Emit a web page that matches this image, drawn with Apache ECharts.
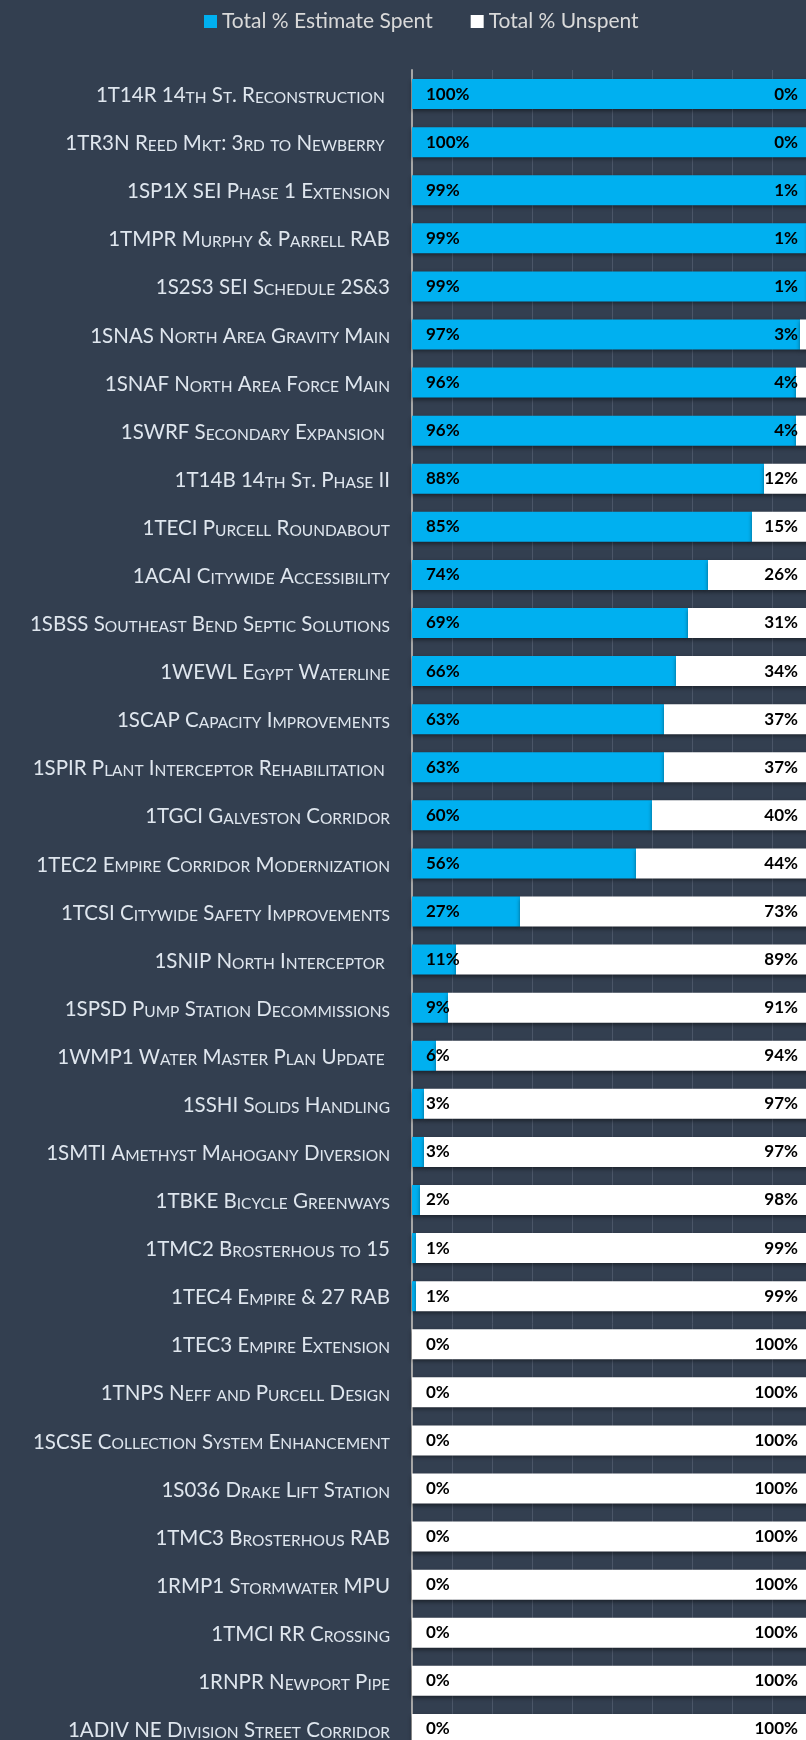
<!DOCTYPE html>
<html>
<head>
<meta charset="utf-8">
<script src="https://cdn.jsdelivr.net/npm/echarts@6/dist/echarts.min.js"></script>
<style>
  html, body { margin: 0; padding: 0; background: #333f50; }
  #chart { width: 806px; height: 1740px; }
</style>
</head>
<body>
<div id="chart"></div>
<script>
// project names (shown in small caps, trailing spaces kept as in the sheet)
const categories = [
    '1T14R 14th St. Reconstruction ',
    '1TR3N Reed Mkt: 3rd to Newberry ',
    '1SP1X SEI Phase 1 Extension',
    '1TMPR Murphy & Parrell RAB',
    '1S2S3 SEI Schedule 2S&3',
    '1SNAS North Area Gravity Main',
    '1SNAF North Area Force Main',
    '1SWRF Secondary Expansion ',
    '1T14B 14th St. Phase II',
    '1TECI Purcell Roundabout',
    '1ACAI Citywide Accessibility',
    '1SBSS Southeast Bend Septic Solutions',
    '1WEWL Egypt Waterline',
    '1SCAP Capacity Improvements',
    '1SPIR Plant Interceptor Rehabilitation ',
    '1TGCI Galveston Corridor',
    '1TEC2 Empire Corridor Modernization',
    '1TCSI Citywide Safety Improvements',
    '1SNIP North Interceptor ',
    '1SPSD Pump Station Decommissions',
    '1WMP1 Water Master Plan Update ',
    '1SSHI Solids Handling',
    '1SMTI Amethyst Mahogany Diversion',
    '1TBKE Bicycle Greenways',
    '1TMC2 Brosterhous to 15',
    '1TEC4 Empire & 27 RAB',
    '1TEC3 Empire Extension',
    '1TNPS Neff and Purcell Design',
    '1SCSE Collection System Enhancement',
    '1S036 Drake Lift Station',
    '1TMC3 Brosterhous RAB',
    '1RMP1 Stormwater MPU',
    '1TMCI RR Crossing',
    '1RNPR Newport Pipe',
    '1ADIV NE Division Street Corridor'
];
const spent = [100, 100, 99, 99, 99, 97, 96, 96, 88, 85, 74, 69, 66, 63, 63, 60, 56, 27, 11, 9, 6, 3, 3, 2, 1, 1, 0, 0, 0, 0, 0, 0, 0, 0, 0];
const unspent = [0, 0, 1, 1, 1, 3, 4, 4, 12, 15, 26, 31, 34, 37, 37, 40, 44, 73, 89, 91, 94, 97, 97, 98, 99, 99, 100, 100, 100, 100, 100, 100, 100, 100, 100];
const seriesNames = ['Total % Estimate Spent', 'Total % Unspent'];

// lower-case letters -> smaller capitals
function smallCaps(s) {
    return s.replace(/[a-z]+|[^a-z]+/g, function (m) {
        return /[a-z]/.test(m) ? '{s|' + m.toUpperCase() + '}' : '{n|' + m + '}';
    });
}

const chart = echarts.init(document.getElementById('chart'));

const barShadow = {
    shadowColor: 'rgba(0,0,0,0.45)',
    shadowBlur: 4,
    shadowOffsetY: 2
};

const valueLabel = {
    show: true,
    color: '#000',
    fontFamily: 'Lato',
    fontWeight: 'bold',
    fontSize: 17,
    distance: 14,
    formatter: '{c}%'
};

option = {
    backgroundColor: '#333f50',
    animation: false,
    legend: {
        top: 11,
        left: 204,
        padding: 0,
        itemWidth: 13,
        itemHeight: 13,
        itemGap: 38,
        icon: 'rect',
        textStyle: {
            color: '#d9d9d9',
            fontFamily: 'Lato',
            fontSize: 21
        },
        data: seriesNames
    },
    grid: {
        left: 412,
        top: 70,
        width: 400,
        height: 1683,
        outerBoundsMode: 'none'
    },
    xAxis: {
        type: 'value',
        min: 0,
        max: 100,
        interval: 10,
        axisLabel: { show: false },
        axisLine: { show: false },
        axisTick: { show: false },
        splitLine: {
            lineStyle: { color: '#4b5668', width: 1 }
        }
    },
    yAxis: {
        type: 'category',
        inverse: true,
        data: categories,
        axisTick: { show: false },
        axisLine: {
            lineStyle: { color: '#a6a6a6', width: 2 }
        },
        axisLabel: {
            margin: 22,
            formatter: smallCaps,
            rich: {
                n: { color: '#dfe6ee', fontFamily: 'Lato', fontSize: 20.5, verticalAlign: 'bottom', lineHeight: 24 },
                s: { color: '#dfe6ee', fontFamily: 'Lato', fontSize: 15.5, verticalAlign: 'bottom', lineHeight: 24 }
            }
        }
    },
    series: [
        {
            name: seriesNames[0],
            type: 'bar',
            stack: 'total',
            barWidth: 30,
            itemStyle: Object.assign({ color: '#00b0f0' }, barShadow),
            label: Object.assign({ position: 'insideLeft' }, valueLabel),
            data: spent
        },
        {
            name: seriesNames[1],
            type: 'bar',
            stack: 'total',
            barWidth: 30,
            itemStyle: Object.assign({ color: '#ffffff' }, barShadow),
            label: Object.assign({ position: 'insideRight' }, valueLabel),
            data: unspent
        }
    ]
};

chart.setOption(option);
</script>
</body>
</html>
